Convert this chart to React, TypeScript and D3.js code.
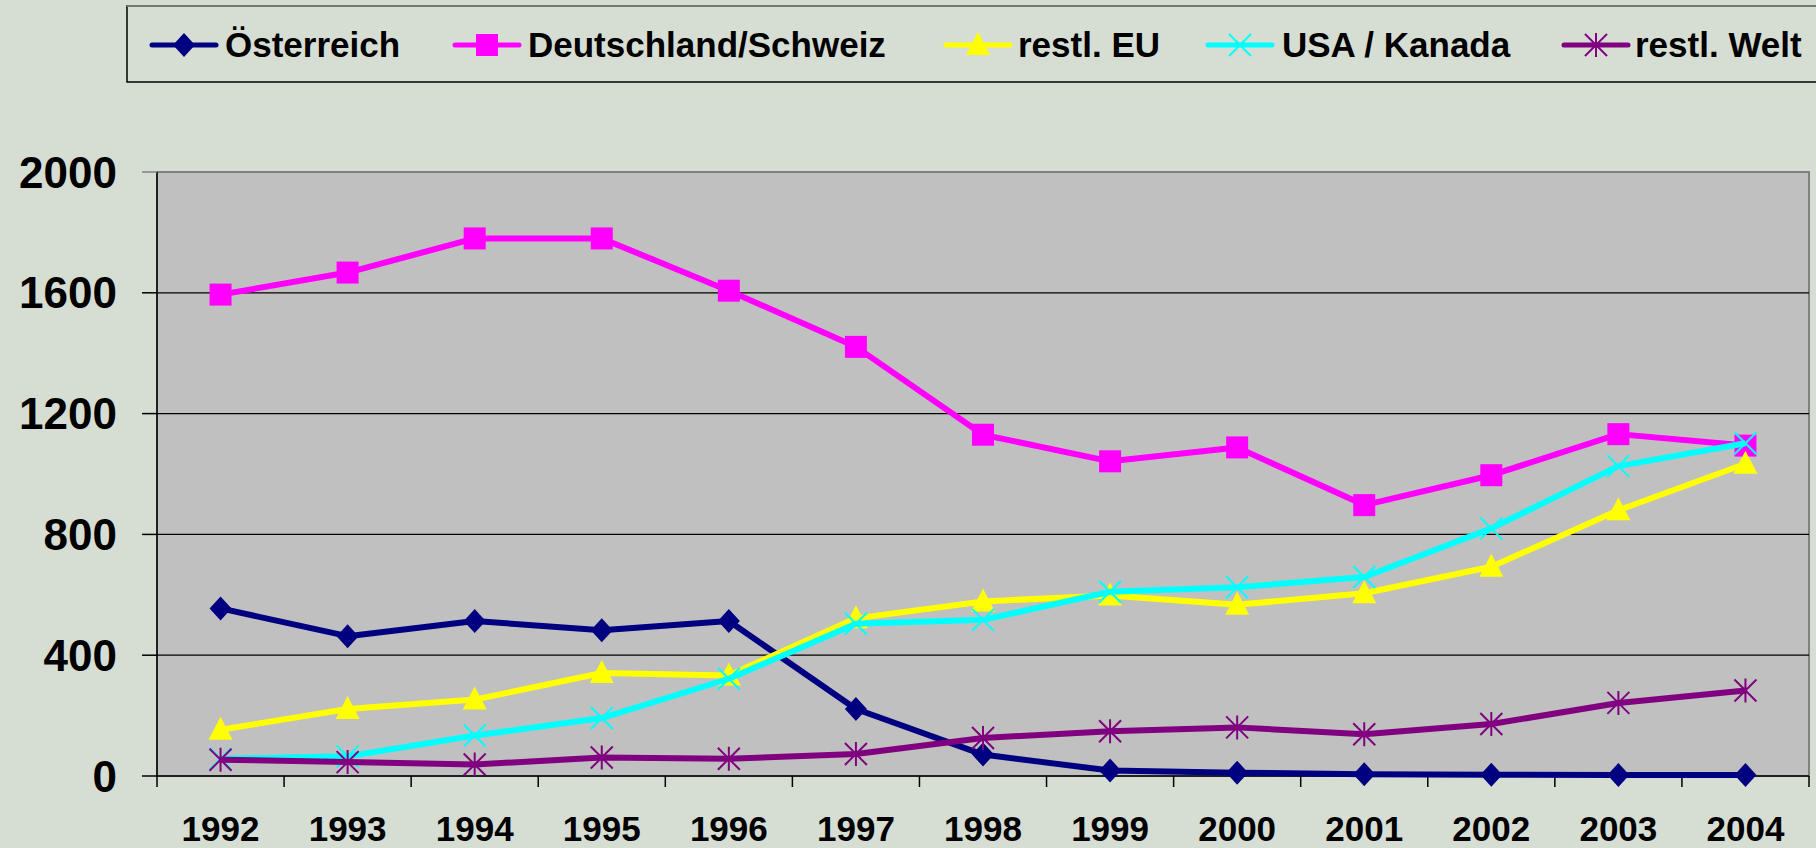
import React from 'react';
import * as d3 from 'd3';

const years = ['1992', '1993', '1994', '1995', '1996', '1997', '1998', '1999', '2000', '2001', '2002', '2003', '2004'];
const yTicks = [0, 400, 800, 1200, 1600, 2000];

const oesterreich = [555, 463, 513, 483, 513, 222, 71, 18, 11, 6, 4, 3, 3];
const deutschlandSchweiz = [1594, 1667, 1780, 1780, 1607, 1421, 1130, 1042, 1088, 897, 996, 1132, 1094];
const restlEU = [153, 222, 253, 341, 333, 522, 578, 598, 567, 605, 693, 880, 1034];
const usaKanada = [57, 65, 134, 192, 322, 504, 517, 610, 625, 659, 820, 1026, 1102];
const restlWelt = [54, 46, 38, 61, 57, 73, 126, 148, 161, 138, 172, 242, 283];

const seriesNames = ['Österreich', 'Deutschland/Schweiz', 'restl. EU', 'USA / Kanada', 'restl. Welt'];
const seriesColors = ['#000080', '#FF00FF', '#FFFF00', '#00FFFF', '#800080'];
const seriesMarkers = ['diamond', 'square', 'triangle', 'cross', 'star'];
const seriesValues = [oesterreich, deutschlandSchweiz, restlEU, usaKanada, restlWelt];

// legend entry positions (line start, text start)
const legendLineX = [152, 455, 946, 1208, 1564];
const legendTextX = [225, 528, 1018, 1282, 1635];

const W = 1816;
const H = 848;
const plot = { left: 157, right: 1809, top: 172, bottom: 776 };
const FONT = '"Liberation Sans", Arial, sans-serif';
const BG = '#D6DED4';

const Marker = ({ type, x, y, color }: { type: string; x: number; y: number; color: string }) => {
  if (type === 'diamond') {
    return <path d={`M${x},${y - 12}L${x + 11},${y}L${x},${y + 12}L${x - 11},${y}Z`} fill={color} />;
  }
  if (type === 'square') {
    return <rect x={x - 11} y={y - 11} width={22} height={22} fill={color} />;
  }
  if (type === 'triangle') {
    return <path d={`M${x},${y - 13}L${x + 12},${y + 10}L${x - 12},${y + 10}Z`} fill={color} />;
  }
  const s = 11;
  const d = `M${x - s},${y - s}L${x + s},${y + s}M${x - s},${y + s}L${x + s},${y - s}` +
    (type === 'star' ? `M${x},${y - s - 1}L${x},${y + s + 1}` : '');
  return <path d={d} stroke={color} strokeWidth={2} fill="none" />;
};

const App = () => {
  const x = d3.scaleBand().domain(years).range([plot.left, plot.right]).padding(0);
  const y = d3.scaleLinear().domain([0, 2000]).range([plot.bottom, plot.top]);
  const cx = (yr: string) => (x(yr) as number) + x.bandwidth() / 2;

  const line = d3.line<number>()
    .x((_, i) => cx(years[i]))
    .y((d) => y(d));

  const boundaries = years.map((yr) => x(yr) as number).concat([plot.right]);

  return (
    <svg width={W} height={H} style={{ position: 'absolute', left: 0, top: 0 }} fontFamily={FONT}>
      <rect x={0} y={0} width={W} height={H} fill={BG} />

      {/* legend */}
      <rect x={127} y={6} width={W} height={76} fill={BG} stroke="#000" strokeWidth={1.5} />
      <line x1={127} y1={6} x2={W} y2={6} stroke="#777" strokeWidth={2} />
      {seriesNames.map((name, i) => {
        const lx = legendLineX[i];
        return (
          <g key={name}>
            <line x1={lx} y1={45} x2={lx + 64} y2={45} stroke={seriesColors[i]} strokeWidth={5} strokeLinecap="round" />
            <Marker type={seriesMarkers[i]} x={lx + 32} y={45} color={seriesColors[i]} />
            <text x={legendTextX[i]} y={57} fontSize={35} fontWeight="bold" fill="#000">{name}</text>
          </g>
        );
      })}

      {/* plot area */}
      <rect x={plot.left} y={plot.top} width={plot.right - plot.left} height={plot.bottom - plot.top}
        fill="#C0C0C0" stroke="#808080" strokeWidth={2} />
      {yTicks.filter((t) => t > 0 && t < 2000).map((t) => (
        <line key={t} x1={plot.left} x2={plot.right} y1={y(t)} y2={y(t)} stroke="#000" strokeWidth={1.2} />
      ))}

      {/* y axis */}
      <line x1={plot.left} x2={plot.left} y1={plot.top} y2={plot.bottom} stroke="#000" strokeWidth={1.5} />
      {yTicks.map((t) => (
        <g key={t}>
          <line x1={plot.left - 15} x2={plot.left} y1={y(t)} y2={y(t)} stroke={t === 2000 ? '#808080' : '#000'} strokeWidth={1.5} />
          <text x={117} y={y(t) + 15.5} textAnchor="end" fontSize={44} fontWeight="bold" fill="#000">{t}</text>
        </g>
      ))}

      {/* x axis */}
      <line x1={plot.left} x2={plot.right} y1={plot.bottom} y2={plot.bottom} stroke="#000" strokeWidth={1.5} />
      {boundaries.map((bx, i) => (
        <line key={i} x1={bx} x2={bx} y1={plot.bottom} y2={plot.bottom + 11} stroke="#000" strokeWidth={1.5} />
      ))}
      {years.map((yr) => (
        <text key={yr} x={cx(yr)} y={841} textAnchor="middle" fontSize={35} fontWeight="bold" fill="#000">{yr}</text>
      ))}

      {/* series */}
      {seriesValues.map((vals, si) => (
        <g key={seriesNames[si]}>
          <path d={line(vals) as string} fill="none" stroke={seriesColors[si]} strokeWidth={6} strokeLinejoin="round" />
          {vals.map((v, i) => (
            <Marker key={i} type={seriesMarkers[si]} x={cx(years[i])} y={y(v)} color={seriesColors[si]} />
          ))}
        </g>
      ))}
    </svg>
  );
};

export default App;
